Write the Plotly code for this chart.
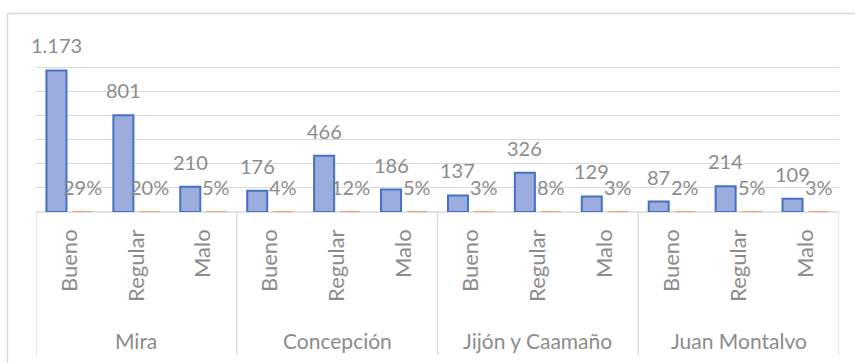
import plotly.graph_objects as go

# Municipalities (outer axis level) and condition categories (inner level)
municipios = ["Mira", "Concepción", "Jijón y Caamaño", "Juan Montalvo"]
estados = ["Bueno", "Regular", "Malo"]

# Number of cases per municipality / condition
frecuencia = [1173, 801, 210, 176, 466, 186, 137, 326, 129, 87, 214, 109]
# Share of the total for each bar
porcentaje = [0.29, 0.20, 0.05, 0.04, 0.12, 0.05, 0.03, 0.08, 0.03, 0.02, 0.05, 0.03]

# Figure geometry (pixels)
W, H = 855, 363
ML, MR, MT, MB = 36, 16, 43, 151
PW, PH = W - ML - MR, H - MT - MB

TEXT = "#8c8c8c"
GRID = "#d9d9d9"
FONT = "Lato"
FS_DATA = 20
FS_TICK = 22
FS_GROUP = 21

keys = [f"{m}|{e}" for m in municipios for e in estados]
inner = [e for m in municipios for e in estados]


def fmt_num(v):
    return f"{v:,}".replace(",", ".")


def px_x(p):
    return (p - ML) / PW


def px_y(p):
    return (H - MB - p) / PH


fig = go.Figure()
fig.add_trace(go.Bar(
    x=keys, y=frecuencia, name="Frecuencia",
    marker=dict(color="#9cacdd", line=dict(color="#4472C4", width=2)),
    offsetgroup="frecuencia", hoverinfo="skip",
))
# the shares sit on their own hidden axis; next to the counts they are
# flat strips along the baseline (plotly keeps them one pixel tall)
fig.add_trace(go.Bar(
    x=keys, y=porcentaje, name="Porcentaje", yaxis="y2",
    marker=dict(color="#F2A068", line=dict(width=0)),
    offsetgroup="porcentaje", hoverinfo="skip",
))

annotations = []
# value labels above each bar
for k, v, p in zip(keys, frecuencia, porcentaje):
    annotations.append(dict(
        x=k, y=v, xref="x", yref="y", text=fmt_num(v), showarrow=False,
        xshift=-13, yshift=25, yanchor="middle",
        font=dict(family=FONT, size=FS_DATA, color=TEXT),
    ))
    annotations.append(dict(
        x=k, y=p, xref="x", yref="y2", text=f"{p:.0%}", showarrow=False,
        xshift=13, yshift=25, yanchor="middle",
        font=dict(family=FONT, size=FS_DATA, color=TEXT),
    ))
# outer group labels, centred under the middle category of each group
for i, m in enumerate(municipios):
    annotations.append(dict(
        x=keys[i * 3 + 1], y=px_y(340), xref="x", yref="paper", text=m,
        showarrow=False, yanchor="middle",
        font=dict(family=FONT, size=FS_GROUP, color=TEXT),
    ))

shapes = []
# category axis baseline, kept underneath the bars
shapes.append(dict(
    type="line", xref="paper", yref="paper", x0=0, x1=1, y0=0, y1=0,
    line=dict(color=GRID, width=1.3), layer="below",
))
# group dividers on the category axis
for b in [-0.5, 2.5, 5.5, 8.5, 11.5]:
    shapes.append(dict(
        type="line", xref="x", yref="paper", x0=b, x1=b, y0=0, y1=px_y(355),
        line=dict(color=GRID, width=1.3), layer="below",
    ))
# chart area border
shapes.append(dict(
    type="rect", xref="paper", yref="paper",
    x0=px_x(7.5), x1=px_x(870), y0=px_y(380), y1=px_y(13.5),
    line=dict(color=GRID, width=1.3), fillcolor="rgba(0,0,0,0)", layer="below",
))

fig.update_layout(
    width=W, height=H,
    margin=dict(l=ML, r=MR, t=MT, b=MB, pad=0),
    paper_bgcolor="white", plot_bgcolor="white",
    barmode="group", bargap=0.223, bargroupgap=0.23,
    showlegend=False,
    font=dict(family=FONT, size=FS_DATA, color=TEXT),
    annotations=annotations, shapes=shapes,
    separators=",.",
    yaxis=dict(
        range=[0, 1400], dtick=200, showticklabels=False,
        showgrid=True, gridcolor=GRID, gridwidth=1.3,
        zeroline=False, showline=False, ticks="",
    ),
    yaxis2=dict(overlaying="y", range=[0, 100], visible=False,
                showgrid=False, zeroline=False),
)
fig.update_xaxes(
    type="category", range=[-0.5, 11.5],
    tickmode="array", tickvals=keys, ticktext=inner,
    tickangle=-90, ticks="", ticklabelstandoff=12,
    tickfont=dict(family=FONT, size=FS_TICK, color=TEXT),
    showline=False, showgrid=False, zeroline=False,
)

fig.write_html("out.html")
